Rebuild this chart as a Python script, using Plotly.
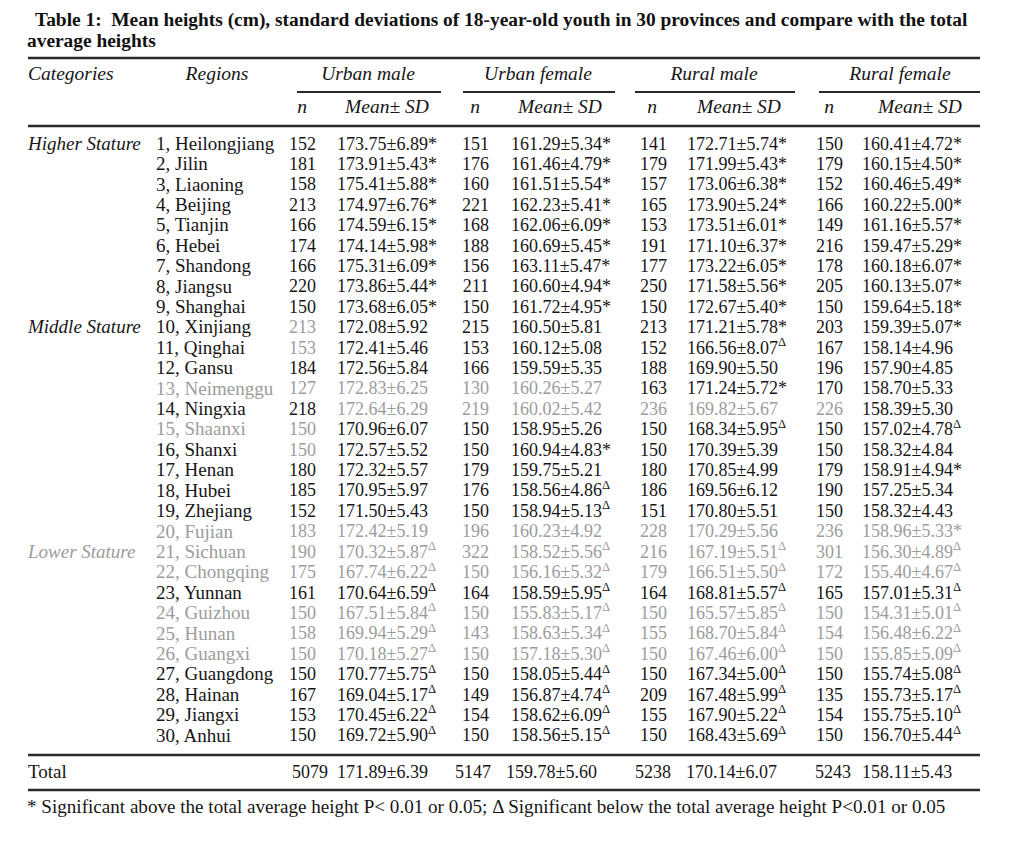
import plotly.graph_objects as go

# ---------------- data ----------------
categories = ["Higher Stature", "Middle Stature", "Lower Stature"]
category_start = [1, 10, 21]

regions = ["Heilongjiang", "Jilin", "Liaoning", "Beijing", "Tianjin", "Hebei", "Shandong",
           "Jiangsu", "Shanghai", "Xinjiang", "Qinghai", "Gansu", "Neimenggu", "Ningxia",
           "Shaanxi", "Shanxi", "Henan", "Hubei", "Zhejiang", "Fujian", "Sichuan",
           "Chongqing", "Yunnan", "Guizhou", "Hunan", "Guangxi", "Guangdong", "Hainan",
           "Jiangxi", "Anhui"]

urban_male_n = [152, 181, 158, 213, 166, 174, 166, 220, 150, 213, 153, 184, 127, 218, 150,
                150, 180, 185, 152, 183, 190, 175, 161, 150, 158, 150, 150, 167, 153, 150]
urban_male_mean = [173.75, 173.91, 175.41, 174.97, 174.59, 174.14, 175.31, 173.86, 173.68,
                   172.08, 172.41, 172.56, 172.83, 172.64, 170.96, 172.57, 172.32, 170.95,
                   171.50, 172.42, 170.32, 167.74, 170.64, 167.51, 169.94, 170.18, 170.77,
                   169.04, 170.45, 169.72]
urban_male_sd = [6.89, 5.43, 5.88, 6.76, 6.15, 5.98, 6.09, 5.44, 6.05, 5.92, 5.46, 5.84, 6.25,
                 6.29, 6.07, 5.52, 5.57, 5.97, 5.43, 5.19, 5.87, 6.22, 6.59, 5.84, 5.29, 5.27,
                 5.75, 5.17, 6.22, 5.90]
urban_male_sig = ["*"] * 9 + [""] * 11 + ["Δ"] * 10

urban_female_n = [151, 176, 160, 221, 168, 188, 156, 211, 150, 215, 153, 166, 130, 219, 150,
                  150, 179, 176, 150, 196, 322, 150, 164, 150, 143, 150, 150, 149, 154, 150]
urban_female_mean = [161.29, 161.46, 161.51, 162.23, 162.06, 160.69, 163.11, 160.60, 161.72,
                     160.50, 160.12, 159.59, 160.26, 160.02, 158.95, 160.94, 159.75, 158.56,
                     158.94, 160.23, 158.52, 156.16, 158.59, 155.83, 158.63, 157.18, 158.05,
                     156.87, 158.62, 158.56]
urban_female_sd = [5.34, 4.79, 5.54, 5.41, 6.09, 5.45, 5.47, 4.94, 4.95, 5.81, 5.08, 5.35, 5.27,
                   5.42, 5.26, 4.83, 5.21, 4.86, 5.13, 4.92, 5.56, 5.32, 5.95, 5.17, 5.34, 5.30,
                   5.44, 4.74, 6.09, 5.15]
urban_female_sig = ["*"] * 9 + [""] * 6 + ["*", "", "Δ", "Δ", ""] + ["Δ"] * 10

rural_male_n = [141, 179, 157, 165, 153, 191, 177, 250, 150, 213, 152, 188, 163, 236, 150,
                150, 180, 186, 151, 228, 216, 179, 164, 150, 155, 150, 150, 209, 155, 150]
rural_male_mean = [172.71, 171.99, 173.06, 173.90, 173.51, 171.10, 173.22, 171.58, 172.67,
                   171.21, 166.56, 169.90, 171.24, 169.82, 168.34, 170.39, 170.85, 169.56,
                   170.80, 170.29, 167.19, 166.51, 168.81, 165.57, 168.70, 167.46, 167.34,
                   167.48, 167.90, 168.43]
rural_male_sd = [5.74, 5.43, 6.38, 5.24, 6.01, 6.37, 6.05, 5.56, 5.40, 5.78, 8.07, 5.50, 5.72,
                 5.67, 5.95, 5.39, 4.99, 6.12, 5.51, 5.56, 5.51, 5.50, 5.57, 5.85, 5.84, 6.00,
                 5.00, 5.99, 5.22, 5.69]
rural_male_sig = ["*"] * 10 + ["Δ", "", "*", "", "Δ", "", "", "", "", ""] + ["Δ"] * 10

rural_female_n = [150, 179, 152, 166, 149, 216, 178, 205, 150, 203, 167, 196, 170, 226, 150,
                  150, 179, 190, 150, 236, 301, 172, 165, 150, 154, 150, 150, 135, 154, 150]
rural_female_mean = [160.41, 160.15, 160.46, 160.22, 161.16, 159.47, 160.18, 160.13, 159.64,
                     159.39, 158.14, 157.90, 158.70, 158.39, 157.02, 158.32, 158.91, 157.25,
                     158.32, 158.96, 156.30, 155.40, 157.01, 154.31, 156.48, 155.85, 155.74,
                     155.73, 155.75, 156.70]
rural_female_sd = [4.72, 4.50, 5.49, 5.00, 5.57, 5.29, 6.07, 5.07, 5.18, 5.07, 4.96, 4.85, 5.33,
                   5.30, 4.78, 4.84, 4.94, 5.34, 4.43, 5.33, 4.89, 4.67, 5.31, 5.01, 6.22, 5.09,
                   5.08, 5.17, 5.10, 5.44]
rural_female_sig = ["*"] * 10 + ["", "", "", "", "Δ", "", "*", "", "", "*"] + ["Δ"] * 10

total_n = [5079, 5147, 5238, 5243]
total_mean = [171.89, 159.78, 170.14, 158.11]
total_sd = [6.39, 5.60, 6.07, 5.43]

group_labels = ["Urban male", "Urban female", "Rural male", "Rural female"]

# rows printed faintly in the scanned source (1-based)
faint_rows = [20, 21, 22, 24, 25, 26]
faint_cells = {10: ["um_n"], 11: ["um_n"], 13: ["region", "um_n", "um_m", "uf_n", "uf_m"],
               14: ["um_m", "uf_n", "uf_m", "rm_n", "rm_m", "rf_n"], 15: ["region", "um_n"],
               16: ["um_n"]}

title_lines = ["Table 1:  Mean heights (cm), standard deviations of 18-year-old youth in 30 provinces and compare with the total",
               "average heights"]
footnote = "* Significant above the total average height P< 0.01 or 0.05; Δ Significant below the total average height P<0.01 or 0.05"

# ---------------- layout constants ----------------
W, H = 1024, 842
OFF = 8  # page body margin
FONT = "Liberation Serif"
FS = 18       # numbers
FS_TXT = 19   # words
FS_HDR = 19.5
DARK = "#161616"
FAINT = "#9c9c9c"
ROW0, DY = 145, 20.41
rows_y = [ROW0 + i * DY for i in range(len(regions))]

def fmt(m, s, sig):
    t = f"{m:.2f}±{s:.2f}"
    if sig == "*":
        t += "*"
    elif sig == "Δ":
        t += "<sup>Δ</sup>"
    return t

def colors(key):
    out = []
    for i in range(len(regions)):
        r = i + 1
        faint = r in faint_rows or key in faint_cells.get(r, [])
        out.append(FAINT if faint else DARK)
    return out

fig = go.Figure()

def text_trace(xs, ys, texts, pos, cols, size=FS, italic=False, bold=False):
    if bold:
        texts = ["<b>" + t + "</b>" for t in texts]
    fig.add_trace(go.Scatter(
        x=xs, y=ys, text=texts, mode="text", textposition=pos,
        textfont=dict(family=FONT, size=size, color=cols,
                      style="italic" if italic else "normal"),
        hoverinfo="skip", showlegend=False))

n = len(regions)
# categories
cat_y = [rows_y[s - 1] for s in category_start]
text_trace([28] * 3, cat_y, categories, "middle right",
           [DARK, DARK, FAINT], size=FS_TXT, italic=True)
# regions
text_trace([156] * n, rows_y, [f"{i + 1}, {r}" for i, r in enumerate(regions)],
           "middle right", colors("region"), size=FS_TXT)

groups = [
    ("um", urban_male_n, urban_male_mean, urban_male_sd, urban_male_sig, 316, 337),
    ("uf", urban_female_n, urban_female_mean, urban_female_sd, urban_female_sig, 489, 511),
    ("rm", rural_male_n, rural_male_mean, rural_male_sd, rural_male_sig, 667, 687),
    ("rf", rural_female_n, rural_female_mean, rural_female_sd, rural_female_sig, 843, 862),
]
for key, ns, ms, sds, sigs, xn, xm in groups:
    text_trace([xn] * n, rows_y, [str(v) for v in ns], "middle left", colors(key + "_n"))
    text_trace([xm] * n, rows_y, [fmt(m, s, g) for m, s, g in zip(ms, sds, sigs)],
               "middle right", colors(key + "_m"))

# total row
TOTAL_Y = 773
tot_n_x = [328, 491, 671, 851]
tot_m_x = [337, 506, 686, 862]
text_trace([28], [TOTAL_Y], ["Total"], "middle right", [DARK], size=FS_TXT)
text_trace(tot_n_x, [TOTAL_Y] * 4, [str(v) for v in total_n], "middle left", [DARK] * 4)
text_trace(tot_m_x, [TOTAL_Y] * 4, [fmt(m, s, "") for m, s in zip(total_mean, total_sd)],
           "middle right", [DARK] * 4)

# headers
HDR1, HDR2 = 75, 108
grp_center = [368, 538, 714, 900]
text_trace([28], [HDR1], ["Categories"], "middle right", [DARK], size=FS_HDR, italic=True)
text_trace([217], [HDR1], ["Regions"], "middle center", [DARK], size=FS_HDR, italic=True)
text_trace(grp_center, [HDR1] * 4, group_labels, "middle center", [DARK] * 4,
           size=FS_HDR, italic=True)
n_x = [302, 475, 652, 829]
m_x = [387, 560, 739, 920]
text_trace(n_x, [HDR2] * 4, ["n"] * 4, "middle center", [DARK] * 4, size=FS_HDR, italic=True)
text_trace(m_x, [HDR2] * 4, ["Mean± SD"] * 4, "middle center", [DARK] * 4,
           size=FS_HDR, italic=True)

# title and footnote
text_trace([35, 27], [21, 42], title_lines, "middle right", ["#111", "#111"],
           size=19.4, bold=True)
text_trace([27], [808], [footnote], "middle right", [DARK], size=19.1)

# rules
shapes = []
def hline(x0, x1, y, w):
    shapes.append(dict(type="line", xref="x", yref="y", x0=x0, x1=x1, y0=y, y1=y,
                       line=dict(color="#2a2a2a", width=w)))
hline(28, 980, 58, 2.5)
for a, b in [(297, 441), (463, 615), (635, 795), (819, 980)]:
    hline(a, b, 92, 1.8)
hline(28, 980, 126, 2.5)
hline(28, 980, 755, 2.5)
hline(28, 980, 790, 2.5)

fig.update_layout(
    width=W, height=H, margin=dict(l=0, r=0, t=0, b=0),
    paper_bgcolor="white", plot_bgcolor="white", shapes=shapes,
    xaxis=dict(range=[OFF, W + OFF], visible=False, fixedrange=True),
    yaxis=dict(range=[H + OFF, OFF], visible=False, fixedrange=True),
)
fig.write_html("out.html")
